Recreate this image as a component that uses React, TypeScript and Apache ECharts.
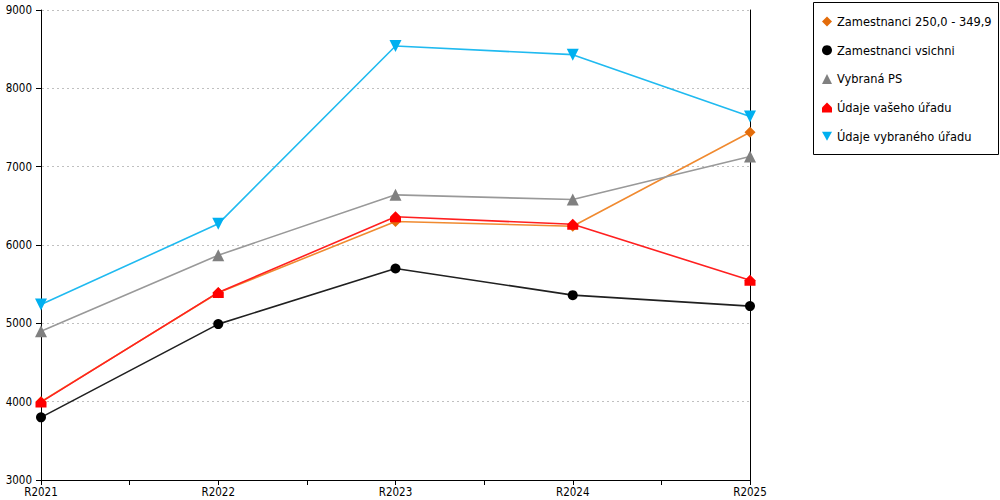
import React, { useEffect, useRef } from "react";
import * as echarts from "echarts";

const categories = ["R2021", "R2022", "R2023", "R2024", "R2025"];
const seriesNames = [
  "Zamestnanci 250,0 - 349,9",
  "Zamestnanci vsichni",
  "Vybraná PS",
  "Údaje vašeho úřadu",
  "Údaje vybraného úřadu",
];
const zam250 = [4000, 5390, 6300, 6240, 7440];
const zamVsichni = [3800, 4990, 5700, 5360, 5220];
const vybranaPS = [4900, 5870, 6640, 6580, 7130];
const vasUrad = [3995, 5395, 6360, 6265, 5550];
const vybranyUrad = [5240, 6270, 8540, 8430, 7640];

const FONT = "'DejaVu Sans Condensed', 'Liberation Sans', sans-serif";
const HOUSE = "path://M0,5L5,0L10,5L10,10L0,10Z";
const DOWN_TRI = "path://M0,0L10,0L5,9Z";

export default function App() {
  const ref = useRef<HTMLDivElement>(null);
  useEffect(() => {
    if (!ref.current) return;
    const chart = echarts.init(ref.current, undefined, { renderer: "svg" });
    const toData = (arr: number[]) => arr.map((v, i) => [i, v]);
    const defs = [
      { name: seriesNames[0], data: zam250, line: "#F08A30", mark: "#E36C0A", symbol: "diamond", size: 11 },
      { name: seriesNames[1], data: zamVsichni, line: "#202020", mark: "#000000", symbol: "circle", size: 10 },
      { name: seriesNames[2], data: vybranaPS, line: "#999999", mark: "#808080", symbol: "triangle", size: 12 },
      { name: seriesNames[3], data: vasUrad, line: "#FF2020", mark: "#FF0000", symbol: HOUSE, size: 11 },
      { name: seriesNames[4], data: vybranyUrad, line: "#20BAF0", mark: "#00B0F0", symbol: DOWN_TRI, size: 12 },
    ];
    chart.setOption({
      animation: false,
      textStyle: { fontFamily: FONT },
      grid: { left: 41, right: 250, top: 10, bottom: 20, containLabel: false },
      legend: {
        orient: "vertical",
        left: 817,
        top: 10,
        itemWidth: 10,
        itemHeight: 10,
        itemGap: 15.7,
        textStyle: { fontFamily: FONT, fontSize: 12.7, color: "#000" },
        data: defs.map((d) => ({ name: d.name, icon: d.symbol, itemStyle: { color: d.mark } })),
      },
      graphic: [
        {
          type: "rect",
          shape: { x: 813.5, y: 2.5, width: 185, height: 152 },
          style: { fill: "none", stroke: "#000", lineWidth: 1 },
          silent: true,
        },
      ],
      xAxis: {
        type: "value",
        min: 0,
        max: 4,
        interval: 0.5,
        axisLine: { show: true, lineStyle: { color: "#000", width: 1 } },
        axisTick: { show: true, length: 5, lineStyle: { color: "#000" } },
        splitLine: { show: false },
        axisLabel: {
          margin: 6,
          fontSize: 11.5,
          fontFamily: FONT,
          color: "#000",
          showMinLabel: true,
          showMaxLabel: true,
          formatter: (v: number) => (Number.isInteger(v) ? categories[v] : ""),
        },
      },
      yAxis: [
        {
          type: "value",
          min: 3000,
          max: 9000,
          interval: 1000,
          axisLine: { show: true, lineStyle: { color: "#000", width: 1 } },
          axisTick: { show: true, length: 5, lineStyle: { color: "#000" } },
          splitLine: {
            show: true,
            lineStyle: { color: "#c0c0c0", type: [2, 3], dashOffset: -6, width: 1 },
          },
          axisLabel: {
            margin: 9,
            fontSize: 11.5,
            fontFamily: FONT,
            color: "#000",
            formatter: (v: number) => String(v),
          },
        },
        {
          type: "value",
          position: "right",
          min: 3000,
          max: 9000,
          interval: 1000,
          axisLine: { show: true, lineStyle: { color: "#000", width: 1 } },
          axisTick: { show: false },
          axisLabel: { show: false },
          splitLine: { show: false },
        },
      ],
      series: defs.map((d) => ({
        name: d.name,
        type: "line",
        data: toData(d.data),
        symbol: d.symbol,
        symbolSize: d.size,
        showAllSymbol: true,
        lineStyle: { color: d.line, width: 1.6 },
        itemStyle: { color: d.mark },
        emphasis: { disabled: true },
      })),
    });
    return () => chart.dispose();
  }, []);
  return (
    <div
      ref={ref}
      style={{ position: "fixed", left: 0, top: 0, width: 1000, height: 500, background: "#fff" }}
    />
  );
}
